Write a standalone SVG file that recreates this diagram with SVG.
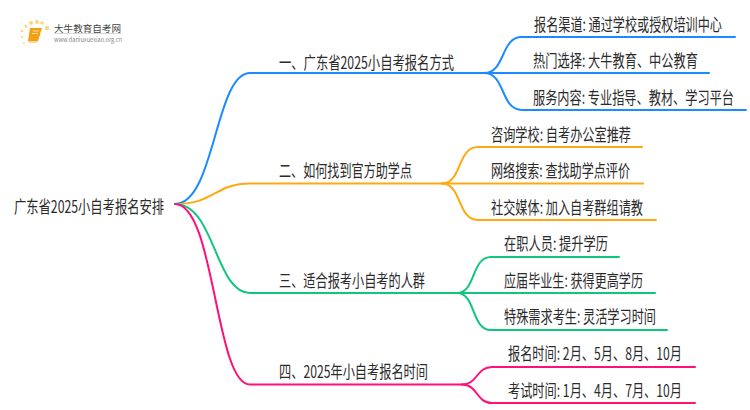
<svg xmlns="http://www.w3.org/2000/svg" width="750" height="410" viewBox="0 0 750 410">
<style>
text{font-family:"Noto Sans CJK SC","Liberation Sans",sans-serif;fill:#2b2b2b;font-size:12.300px;}
.c{fill:none;stroke-width:2;stroke-linecap:round}
.b{stroke:#1a8cff}.o{stroke:#ffa90f}.g{stroke:#0fc77a}.p{stroke:#ff0f77}
.d{fill:#fbd77c}
</style>
<rect width="750" height="410" fill="#ffffff"/>
<g id="connectors">
<path class="c b" d="M175 204C215 204 215 73 250 73H484"/>
<path class="c b" d="M484 73C506 73 500 37 522 37H735"/>
<path class="c b" d="M484 73H709"/>
<path class="c b" d="M484 73C506 73 500 110 522 110H746"/>
<path class="c o" d="M175 204C215 204 215 183.500 250 183.500H442"/>
<path class="c o" d="M442 183.500C462 183.500 457 147 478 147H642"/>
<path class="c o" d="M442 183.500H643"/>
<path class="c o" d="M442 183.500C462 183.500 457 220 478 220H656"/>
<path class="c g" d="M175 204C215 204 215 293 250 293H457"/>
<path class="c g" d="M457 293C476 293 471 257 491 257H619"/>
<path class="c g" d="M457 293H655"/>
<path class="c g" d="M457 293C476 293 471 330 491 330H667"/>
<path class="c p" d="M175 204C215 204 215 384.500 250 384.500H462"/>
<path class="c p" d="M462 384.500C478 384.500 476 367 492 367H695"/>
<path class="c p" d="M462 384.500C478 384.500 476 403 492 403H695"/>
</g>
<g id="logo">
<circle class="d" cx="47" cy="28" r="2.200"/><circle class="d" cx="42" cy="23" r="1.800"/><circle class="d" cx="37" cy="22" r="2"/><circle class="d" cx="31" cy="23" r="2"/><circle class="d" cx="26" cy="26" r="1.500"/><circle class="d" cx="22" cy="31" r="1.300"/><circle class="d" cx="22" cy="37" r="1.100"/><circle class="d" cx="24" cy="43" r="1"/>
<path d="M30 28H42L38 41H28Z" fill="#f59f12"/>
<path d="M28 41H38L37 43H29Z" fill="#fbd8a0"/>
<path d="M33 31H39M32 33.500H38" stroke="#ffe2a8" stroke-width="1" fill="none"/>
<text x="54" y="31.500" textLength="67" lengthAdjust="spacingAndGlyphs" style="font-size:9.500px;fill:#444">大牛教育自考网</text>
<path d="M54 33.500H121" stroke="#d8d8d8" stroke-width="1"/>
<text x="54" y="41.500" textLength="68" lengthAdjust="spacingAndGlyphs" style="font-size:6px;fill:#888">www.daniuxuexiao.org.cn</text>
</g>
<g id="root"><text transform="translate(14,213) scale(1,1.400)" textLength="150" lengthAdjust="spacingAndGlyphs">广东省2025小自考报名安排</text></g>
<g id="n1"><text transform="translate(279,68.500) scale(1,1.400)" textLength="175" lengthAdjust="spacingAndGlyphs">一、广东省2025小自考报名方式</text></g>
<g id="n1a"><text transform="translate(534,31) scale(1,1.400)" textLength="188" lengthAdjust="spacingAndGlyphs">报名渠道: 通过学校或授权培训中心</text></g>
<g id="n1b"><text transform="translate(533,67) scale(1,1.400)" textLength="165" lengthAdjust="spacingAndGlyphs">热门选择: 大牛教育、中公教育</text></g>
<g id="n1c"><text transform="translate(533,104) scale(1,1.400)" textLength="201" lengthAdjust="spacingAndGlyphs">服务内容: 专业指导、教材、学习平台</text></g>
<g id="n2"><text transform="translate(279,177) scale(1,1.400)" textLength="133" lengthAdjust="spacingAndGlyphs">二、如何找到官方助学点</text></g>
<g id="n2a"><text transform="translate(491,140.500) scale(1,1.400)" textLength="140" lengthAdjust="spacingAndGlyphs">咨询学校: 自考办公室推荐</text></g>
<g id="n2b"><text transform="translate(491,177) scale(1,1.400)" textLength="139" lengthAdjust="spacingAndGlyphs">网络搜索: 查找助学点评价</text></g>
<g id="n2c"><text transform="translate(491,214) scale(1,1.400)" textLength="152" lengthAdjust="spacingAndGlyphs">社交媒体: 加入自考群组请教</text></g>
<g id="n3"><text transform="translate(279,286.500) scale(1,1.400)" textLength="146" lengthAdjust="spacingAndGlyphs">三、适合报考小自考的人群</text></g>
<g id="n3a"><text transform="translate(504,250) scale(1,1.400)" textLength="104" lengthAdjust="spacingAndGlyphs">在职人员: 提升学历</text></g>
<g id="n3b"><text transform="translate(504,286.500) scale(1,1.400)" textLength="139" lengthAdjust="spacingAndGlyphs">应届毕业生: 获得更高学历</text></g>
<g id="n3c"><text transform="translate(504,323) scale(1,1.400)" textLength="152" lengthAdjust="spacingAndGlyphs">特殊需求考生: 灵活学习时间</text></g>
<g id="n4"><text transform="translate(279,378) scale(1,1.400)" textLength="149" lengthAdjust="spacingAndGlyphs">四、2025年小自考报名时间</text></g>
<g id="n4a"><text transform="translate(508,360) scale(1,1.400)" textLength="174" lengthAdjust="spacingAndGlyphs">报名时间: 2月、5月、8月、10月</text></g>
<g id="n4b"><text transform="translate(508,397) scale(1,1.400)" textLength="174" lengthAdjust="spacingAndGlyphs">考试时间: 1月、4月、7月、10月</text></g>
</svg>
